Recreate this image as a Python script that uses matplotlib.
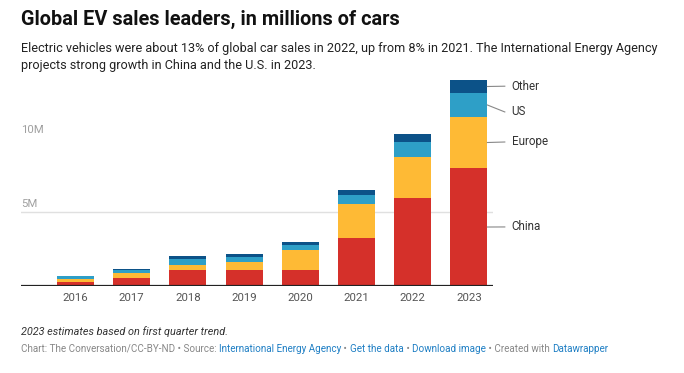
import matplotlib.pyplot as plt

plt.rcParams['font.family'] = ['Roboto', 'DejaVu Sans']

# EV sales in millions of cars
years = ['2016', '2017', '2018', '2019', '2020', '2021', '2022', '2023']
china = [0.27, 0.54, 1.08, 1.08, 1.08, 3.24, 5.97, 7.97]
europe = [0.20, 0.34, 0.34, 0.54, 1.35, 2.30, 2.75, 3.45]
us = [0.21, 0.20, 0.40, 0.34, 0.34, 0.61, 1.01, 1.62]
other = [0.02, 0.07, 0.21, 0.20, 0.20, 0.34, 0.54, 0.88]

series = [('China', china, '#d5302a'),
          ('Europe', europe, '#feba35'),
          ('US', us, '#2e9fc7'),
          ('Other', other, '#0c5288')]

W, H = 684, 373
fig = plt.figure(figsize=(W / 100, H / 100), dpi=100)

# axes box in pixels: left 21, right 493, baseline 286, 14.8 px per million
px_per_m = 14.8
ymax = 14.5
ax_h = ymax * px_per_m
ax = fig.add_axes([21 / W, (H - 286) / H, (493 - 21) / W, ax_h / H])

x = list(range(len(years)))
bottom = [0] * len(years)
for name, vals, col in series:
    ax.bar(x, vals, width=0.66, bottom=bottom, color=col, zorder=3)
    bottom = [b + v for b, v in zip(bottom, vals)]

ax.set_xlim(-0.97, 7.43)
ax.set_ylim(0, ymax)

# only the 5M gridline shows
ax.axhline(5, color='#e0e0e0', lw=1, zorder=1)
ax.axhline(0, color='#222222', lw=1.6, zorder=4)
for v, lab in [(5, '5M'), (10, '10M')]:
    ax.text(-0.97, v + 0.2, lab, ha='left', va='bottom', fontsize=8.2, color='#a0a0a0')

ax.set_xticks(x)
ax.set_xticklabels(years, fontsize=8.2, color='#555555')
ax.tick_params(axis='x', length=0, pad=5)
ax.set_yticks([])
for s in ax.spines.values():
    s.set_visible(False)

# labels for the 2023 bar
last = len(years) - 1
cum = 0
label_y = {'China': 3.99, 'Europe': 9.73, 'US': 11.76, 'Other': 13.5}
for name, vals, col in series:
    mid = cum + vals[last] / 2
    cum += vals[last]
    ax.plot([last + 0.33, last + 0.64], [mid, label_y[name]], color='#888888', lw=0.8,
            clip_on=False, zorder=5)
    ax.text(last + 0.76, label_y[name], name, ha='left', va='center', fontsize=8.4,
            color='#333333', clip_on=False)

fig.text(21 / W, 1 - 19 / H, 'Global EV sales leaders, in millions of cars', fontsize=14.3,
         fontweight='bold', color='#111111', ha='left', va='center')
fig.text(21 / W, 1 - 57 / H,
         'Electric vehicles were about 13% of global car sales in 2022, up from 8% in 2021. '
         'The International Energy Agency\nprojects strong growth in China and the U.S. in 2023.',
         fontsize=9.05, color='#222222', ha='left', va='center', linespacing=1.35)

fig.text(21 / W, 1 - 332 / H, '2023 estimates based on first quarter trend.', fontsize=7.8,
         style='italic', color='#333333', ha='left', va='center')

# credit line with link-coloured pieces
parts = [('Chart: The Conversation/CC-BY-ND \u2022 Source: ', '#888888'),
         ('International Energy Agency', '#1f7fc4'),
         (' \u2022 ', '#888888'),
         ('Get the data', '#1f7fc4'),
         (' \u2022 ', '#888888'),
         ('Download image', '#1f7fc4'),
         (' \u2022 Created with ', '#888888'),
         ('Datawrapper', '#1f7fc4')]
fig.canvas.draw()
renderer = fig.canvas.get_renderer()
xpos = 21 / W
for txt, col in parts:
    t = fig.text(xpos, 1 - 349 / H, txt, fontsize=7.1, color=col, ha='left', va='center')
    bb = t.get_window_extent(renderer=renderer)
    xpos += bb.width / W

fig.savefig('out.png', dpi=100)
